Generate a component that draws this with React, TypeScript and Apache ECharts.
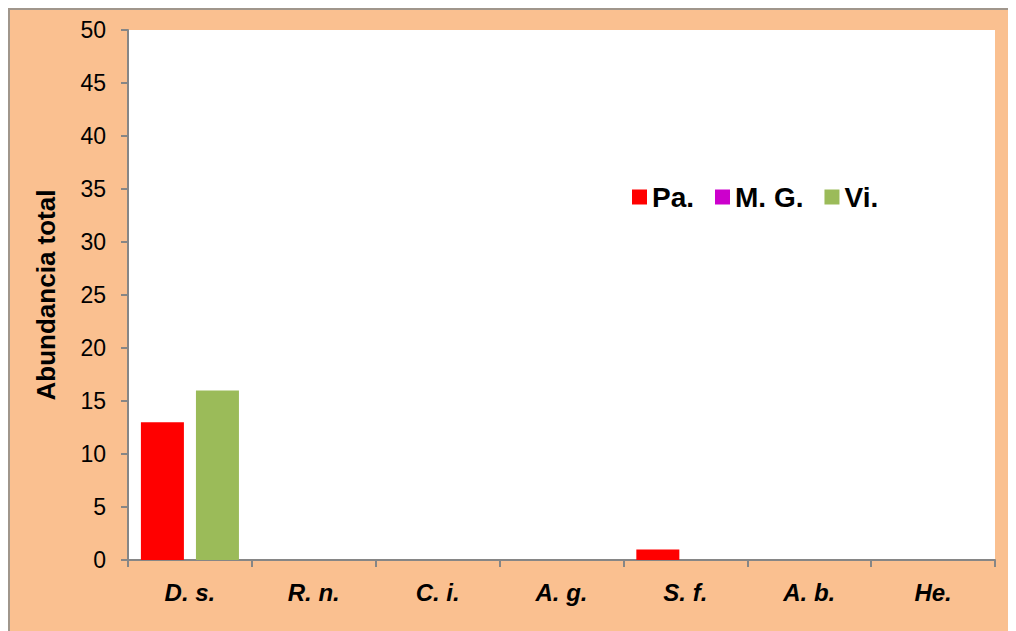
import React, { useEffect, useRef } from "react";
import * as echarts from "echarts";

const categories = ["D. s.", "R. n.", "C. i.", "A. g.", "S. f.", "A. b.", "He."];
const seriesNames = ["Pa.", "M. G.", "Vi."];
const paValues = [13, 0, 0, 0, 1, 0, 0];
const mgValues = [0, 0, 0, 0, 0, 0, 0];
const viValues = [16, 0, 0, 0, 0, 0, 0];
const colors = ["#FF0000", "#CC00CC", "#9BBB59"];

const FONT = "'Liberation Sans', Arial, sans-serif";

export default function App() {
  const ref = useRef<HTMLDivElement>(null);
  useEffect(() => {
    if (!ref.current) return;
    const chart = echarts.init(ref.current, undefined, { renderer: "svg" });
    chart.setOption({
      animation: false,
      backgroundColor: "#FAC090",
      textStyle: { fontFamily: FONT },
      legend: {
        data: seriesNames,
        left: 617,
        top: 168,
        itemWidth: 15,
        itemHeight: 15,
        itemGap: 21,
        icon: "rect",
        textStyle: { fontSize: 28, fontWeight: "bold", color: "#000", fontFamily: FONT },
      },
      grid: {
        left: 118,
        top: 20,
        width: 867,
        height: 530,
        show: true,
        backgroundColor: "#FFFFFF",
        borderWidth: 0,
      },
      xAxis: {
        type: "category",
        data: categories,
        axisLine: { lineStyle: { color: "#868686", width: 2 } },
        axisTick: { show: true, length: 7, lineStyle: { color: "#868686", width: 2 }, interval: 0 },
        axisLabel: {
          fontSize: 24,
          fontWeight: "bold",
          fontStyle: "italic",
          color: "#000",
          margin: 20,
          fontFamily: FONT,
        },
        splitLine: { show: false },
      },
      yAxis: {
        type: "value",
        min: 0,
        max: 50,
        interval: 5,
        name: "Abundancia total",
        nameLocation: "middle",
        nameGap: 69,
        nameTextStyle: { fontSize: 26, fontWeight: "bold", color: "#000", fontFamily: FONT },
        axisLine: { show: true, lineStyle: { color: "#868686", width: 2 } },
        axisTick: { show: true, length: 7, lineStyle: { color: "#868686", width: 2 } },
        axisLabel: { fontSize: 23, color: "#000", margin: 22, fontFamily: FONT },
        splitLine: { show: false },
      },
      series: [
        {
          name: seriesNames[0],
          type: "bar",
          stack: "a",
          data: paValues,
          barWidth: 43,
          barGap: "28%",
          itemStyle: { color: colors[0] },
        },
        {
          name: seriesNames[1],
          type: "bar",
          stack: "a",
          data: mgValues,
          barWidth: 43,
          itemStyle: { color: colors[1] },
        },
        {
          name: seriesNames[2],
          type: "bar",
          data: viValues,
          barWidth: 43,
          barGap: "28%",
          itemStyle: { color: colors[2] },
        },
      ],
    });
    return () => chart.dispose();
  }, []);
  return (
    <div
      style={{
        width: 1008,
        height: 623,
        boxSizing: "border-box",
        borderTop: "2px solid #A0968C",
        borderLeft: "2px solid #A0968C",
        background: "#FAC090",
      }}
    >
      <div ref={ref} style={{ width: 1006, height: 621 }} />
    </div>
  );
}
